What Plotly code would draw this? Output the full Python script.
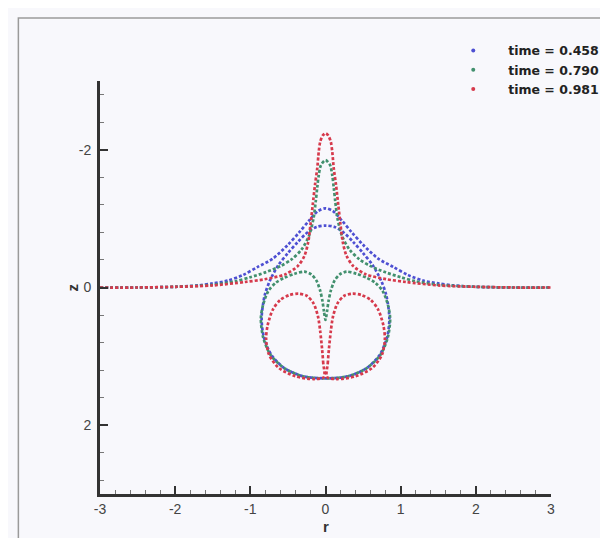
import plotly.graph_objects as go

# interface profiles (r, z), z positive downwards
times = ["time = 0.458", "time = 0.790", "time = 0.981"]
colors = ["#4d4fd2", "#42906e", "#d63a4c"]

x_ticks = [-3, -2, -1, 0, 1, 2, 3]
x_ticklabels = ["-3", "-2", "-1", "0", "1", "2", "3"]
y_ticks = [-2, 0, 2]
y_ticklabels = ["-2", "0", "2"]

# t = 0.458
blue_surf_r = [-3.0, -2.5, -2.0, -1.7, -1.5, -1.3, -1.1, -0.9, -0.7, -0.5, -0.35, -0.22, -0.1, 0.0,
               0.1, 0.22, 0.35, 0.5, 0.7, 0.9, 1.1, 1.3, 1.5, 1.7, 2.0, 2.5, 3.0]
blue_surf_z = [0.0, 0.0, -0.01, -0.03, -0.06, -0.1, -0.18, -0.3, -0.42, -0.62, -0.8, -0.97, -1.11, -1.15,
               -1.11, -0.97, -0.8, -0.62, -0.42, -0.3, -0.18, -0.1, -0.06, -0.03, -0.01, 0.0, 0.0]
blue_drop_r = [0.0, -0.12, -0.23, -0.37, -0.5, -0.63, -0.74, -0.81, -0.85, -0.82, -0.72, -0.55, -0.3, 0.0,
               0.3, 0.55, 0.72, 0.82, 0.85, 0.81, 0.74, 0.63, 0.5, 0.37, 0.23, 0.12, 0.0]
blue_drop_z = [-0.9, -0.88, -0.81, -0.66, -0.5, -0.32, -0.1, 0.12, 0.45, 0.72, 0.98, 1.17, 1.29, 1.32,
               1.29, 1.17, 0.98, 0.72, 0.45, 0.12, -0.1, -0.32, -0.5, -0.66, -0.81, -0.88, -0.9]

# t = 0.790
green_surf_r = [-3.0, -2.5, -2.0, -1.5, -1.2, -1.0, -0.8, -0.6, -0.45, -0.32, -0.22, -0.16, -0.13, -0.11,
                -0.09, -0.06, 0.0, 0.06, 0.09, 0.11, 0.13, 0.16, 0.22, 0.32, 0.45, 0.6, 0.8, 1.0, 1.2,
                1.5, 2.0, 2.5, 3.0]
green_surf_z = [0.0, 0.0, -0.01, -0.04, -0.09, -0.15, -0.22, -0.31, -0.41, -0.55, -0.75, -1.0, -1.25, -1.45,
                -1.63, -1.78, -1.85, -1.78, -1.63, -1.45, -1.25, -1.0, -0.75, -0.55, -0.41, -0.31, -0.22,
                -0.15, -0.09, -0.04, -0.01, 0.0, 0.0]
green_drop_r = [0.0, -0.02, -0.04, -0.07, -0.12, -0.19, -0.28, -0.41, -0.55, -0.66, -0.76, -0.83, -0.86,
                -0.83, -0.73, -0.55, -0.3, 0.0, 0.3, 0.55, 0.73, 0.83, 0.86, 0.83, 0.76, 0.66, 0.55, 0.41,
                0.28, 0.19, 0.12, 0.07, 0.04, 0.02, 0.0]
green_drop_z = [0.47, 0.35, 0.2, 0.05, -0.1, -0.19, -0.23, -0.2, -0.14, -0.07, 0.05, 0.25, 0.45, 0.72, 0.98,
                1.17, 1.29, 1.32, 1.29, 1.17, 0.98, 0.72, 0.45, 0.25, 0.05, -0.07, -0.14, -0.2, -0.23,
                -0.19, -0.1, 0.05, 0.2, 0.35, 0.47]

# t = 0.981
red_surf_r = [-3.0, -2.5, -2.0, -1.5, -1.07, -0.81, -0.54, -0.37, -0.28, -0.23, -0.2, -0.17, -0.14, -0.11,
              -0.09, -0.07, -0.035, 0.0, 0.035, 0.07, 0.09, 0.11, 0.14, 0.17, 0.2, 0.23, 0.28, 0.37, 0.54,
              0.81, 1.07, 1.5, 2.0, 2.5, 3.0]
red_surf_z = [0.0, 0.0, -0.01, -0.03, -0.08, -0.12, -0.19, -0.31, -0.46, -0.66, -0.91, -1.2, -1.49, -1.73,
              -1.97, -2.12, -2.21, -2.24, -2.21, -2.12, -1.97, -1.73, -1.49, -1.2, -0.91, -0.66, -0.46,
              -0.31, -0.19, -0.12, -0.08, -0.03, -0.01, 0.0, 0.0]
red_lobe_r = [-0.02, -0.03, -0.045, -0.07, -0.1, -0.16, -0.25, -0.36, -0.48, -0.6, -0.7, -0.77, -0.79,
              -0.75, -0.62, -0.4, -0.15, -0.02, None,
              0.02, 0.03, 0.045, 0.07, 0.1, 0.16, 0.25, 0.36, 0.48, 0.6, 0.7, 0.77, 0.79,
              0.75, 0.62, 0.4, 0.15, 0.02]
red_lobe_z = [1.3, 1.1, 0.9, 0.64, 0.42, 0.23, 0.12, 0.09, 0.11, 0.18, 0.32, 0.55, 0.75, 0.98, 1.17, 1.29,
              1.33, 1.3, None,
              1.3, 1.1, 0.9, 0.64, 0.42, 0.23, 0.12, 0.09, 0.11, 0.18, 0.32, 0.55, 0.75, 0.98, 1.17, 1.29,
              1.33, 1.3]

curves = [
    [(blue_surf_r, blue_surf_z), (blue_drop_r, blue_drop_z)],
    [(green_surf_r, green_surf_z), (green_drop_r, green_drop_z)],
    [(red_surf_r, red_surf_z), (red_lobe_r, red_lobe_z)],
]

fig = go.Figure()

for name, color, parts in zip(times, colors, curves):
    for r, z in parts:
        fig.add_trace(go.Scatter(
            x=r, y=z, mode="lines",
            line=dict(color=color, width=2.7, dash="3px,2px", shape="spline", smoothing=0.8),
            showlegend=False, hoverinfo="skip"
        ))
    # legend entry only
    fig.add_trace(go.Scatter(
        x=[None], y=[None], mode="markers", name=name,
        marker=dict(color=color, size=4)
    ))

fig.update_layout(
    width=608, height=538,
    margin=dict(l=92, r=63, t=73, b=52),
    paper_bgcolor="#f8f8fc",
    plot_bgcolor="#f8f8fc",
    font=dict(family="Liberation Sans, Arial, sans-serif", size=14, color="#444"),
    legend=dict(
        x=0.75, y=1.109, xanchor="left", yanchor="top",
        bgcolor="rgba(0,0,0,0)", itemwidth=60,
        font=dict(size=12.5, color="#222", family="DejaVu Sans, sans-serif", weight="bold"),
        tracegroupgap=0
    ),
    shapes=[dict(type="rect", xref="paper", yref="paper",
                 x0=-0.181, x1=1.13, y0=-0.14, y1=1.1525,
                 line=dict(color="#9a9a9a", width=1.5), layer="below")],
    annotations=[
        dict(text="<b>r</b>", xref="paper", yref="paper", x=0.5, y=-0.078,
             showarrow=False, xanchor="center", yanchor="middle",
             font=dict(size=15, color="#333")),
        dict(text="<b>z</b>", xref="paper", yref="paper", x=-0.06, y=0.5,
             showarrow=False, xanchor="center", yanchor="middle", textangle=-90,
             font=dict(size=15, color="#333")),
    ]
)

fig.update_xaxes(
    range=[-3, 3], tickvals=x_ticks, ticktext=x_ticklabels,
    showline=True, linewidth=3, linecolor="#333",
    ticks="inside", ticklen=8, tickwidth=2, tickcolor="#333",
    minor=dict(ticks="inside", dtick=0.2, tick0=0, ticklen=4, tickwidth=1, tickcolor="#777"),
    showgrid=False, zeroline=False
)
fig.update_yaxes(
    range=[3, -3], tickvals=y_ticks, ticktext=y_ticklabels, ticklabelstandoff=3,
    showline=True, linewidth=3, linecolor="#333",
    ticks="inside", ticklen=8, tickwidth=2, tickcolor="#333",
    minor=dict(ticks="inside", dtick=0.4, tick0=0, ticklen=4, tickwidth=1, tickcolor="#777"),
    showgrid=False, zeroline=False
)

fig.write_html("out.html")
